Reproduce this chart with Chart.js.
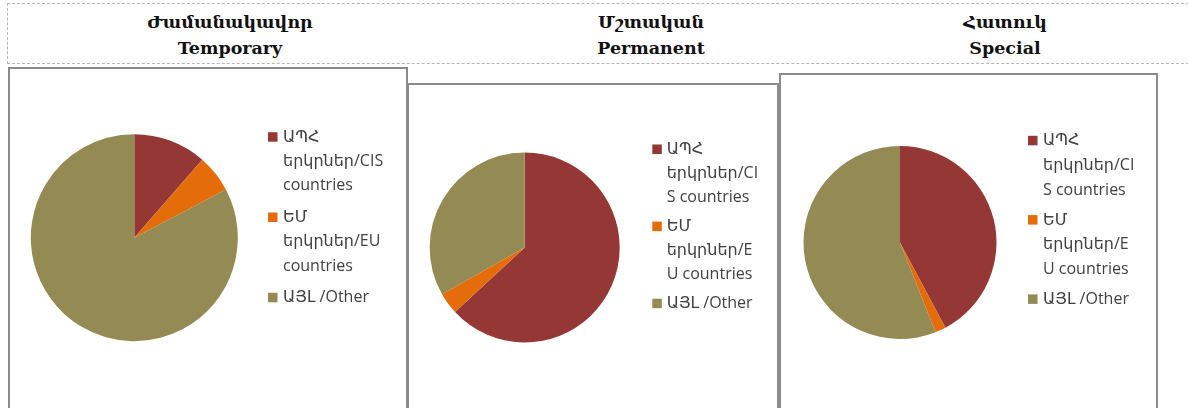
<!DOCTYPE html>
<html>
<head>
<meta charset="utf-8">
<script src="https://cdn.jsdelivr.net/npm/chart.js@4.4.1/dist/chart.umd.min.js"></script>
<style>
  body { margin: 0; width: 1188px; height: 408px; overflow: hidden; background: #fff; position: relative; }
  .head-box { position: absolute; left: 7px; top: 3px; width: 1200px; height: 59px; border: 1px dashed #b4b4b4; }
  .title { position: absolute; top: 10px; width: 240px; text-align: center; font-family: "DejaVu Serif", serif;
           font-weight: bold; font-size: 17.5px; line-height: 25.6px; color: #111; }
  .panel { position: absolute; border: 2px solid #8c8c8c; background: #fff; box-sizing: border-box; height: 400px; }
  .panel canvas { position: absolute; left: 0; top: 0; }
</style>
</head>
<body>
<div class="head-box"></div>
<div id="titles"></div>
<div id="panels"></div>

<script>
// Migration by type of residence, share by destination group

const categories = ['ԱՊՀ երկրներ/CIS countries', 'ԵՄ երկրներ/EU countries', 'ԱՅԼ /Other'];
const temporaryShares = [11.4, 5.9, 82.7];
const permanentShares = [63.1, 3.7, 33.2];
const specialShares = [42.2, 1.8, 56.0];

// Legend labels as they wrap in each panel
const legendLinesWide = [['ԱՊՀ', 'երկրներ/CIS', 'countries'], ['ԵՄ', 'երկրներ/EU', 'countries'], ['ԱՅԼ /Other']];
const legendLinesNarrow = [['ԱՊՀ', 'երկրներ/CI', 'S countries'], ['ԵՄ', 'երկրներ/E', 'U countries'], ['ԱՅԼ /Other']];

const titleTop = ['Ժամանակավոր', 'Մշտական', 'Հատուկ'];
const titleBottom = ['Temporary', 'Permanent', 'Special'];

const sliceColors = ['#953735', '#e46c0a', '#948a54'];

// Page layout of each panel (page pixels)
const panels = [
  { shares: temporaryShares, lines: legendLinesWide, titleX: 230,
    left: 8, top: 67, width: 400, cx: 134.3, cy: 237.7, r: 103.5,
    legend: { boxX: 268, textX: 283, y: 141.7, lineH: 24.3, gap: 7.4 } },
  { shares: permanentShares, lines: legendLinesNarrow, titleX: 651,
    left: 407, top: 83, width: 372, cx: 524.7, cy: 247.5, r: 95,
    legend: { boxX: 652.3, textX: 666.7, y: 154, lineH: 23.9, gap: 5.4 } },
  { shares: specialShares, lines: legendLinesNarrow, titleX: 1005,
    left: 779, top: 73, width: 379, cx: 900, cy: 242.5, r: 96.5,
    legend: { boxX: 1028, textX: 1043, y: 145.3, lineH: 24.6, gap: 5.5 } }
];

// Legend drawn beside the pie, one square per slice with wrapped text
const sideLegend = {
  id: 'sideLegend',
  afterDraw(chart, args, opts) {
    const ctx = chart.ctx;
    const ds = chart.data.datasets[0];
    ctx.save();
    ctx.font = '16px "Open Sans", "DejaVu Sans", sans-serif';
    ctx.textBaseline = 'alphabetic';
    let y = opts.y;
    chart.data.labels.forEach((lines, i) => {
      ctx.fillStyle = ds.backgroundColor[i];
      ctx.fillRect(opts.boxX, y - 9.5, 9.5, 9.5);
      ctx.fillStyle = '#404040';
      lines.forEach((line, k) => ctx.fillText(line, opts.textX, y + k * opts.lineH));
      y += lines.length * opts.lineH + opts.gap;
    });
    ctx.restore();
  }
};

const titlesEl = document.getElementById('titles');
const panelsEl = document.getElementById('panels');

panels.forEach((p, idx) => {
  const t = document.createElement('div');
  t.className = 'title';
  t.style.left = (p.titleX - 120) + 'px';
  t.innerHTML = titleTop[idx] + '<br>' + titleBottom[idx];
  titlesEl.appendChild(t);

  const box = document.createElement('div');
  box.className = 'panel';
  box.style.left = p.left + 'px';
  box.style.top = p.top + 'px';
  box.style.width = p.width + 'px';
  panelsEl.appendChild(box);

  const cl = p.left + 2, ct = p.top + 2;
  const cw = p.width - 4, ch = 408 - ct;
  const canvas = document.createElement('canvas');
  canvas.width = cw;
  canvas.height = ch;
  canvas.style.width = cw + 'px';
  canvas.style.height = ch + 'px';
  box.appendChild(canvas);

  new Chart(canvas.getContext('2d'), {
    type: 'pie',
    data: {
      labels: p.lines,
      datasets: [{
        data: p.shares,
        backgroundColor: sliceColors,
        borderWidth: 0,
        hoverOffset: 0
      }]
    },
    options: {
      responsive: false,
      animation: false,
      events: [],
      layout: {
        padding: {
          left: p.cx - p.r - cl,
          top: p.cy - p.r - ct,
          right: cl + cw - (p.cx + p.r),
          bottom: ct + ch - (p.cy + p.r)
        }
      },
      plugins: {
        legend: { display: false },
        tooltip: { enabled: false },
        sideLegend: {
          boxX: p.legend.boxX - cl,
          textX: p.legend.textX - cl,
          y: p.legend.y - ct,
          lineH: p.legend.lineH,
          gap: p.legend.gap
        }
      }
    },
    plugins: [sideLegend]
  });
});
</script>
</body>
</html>
